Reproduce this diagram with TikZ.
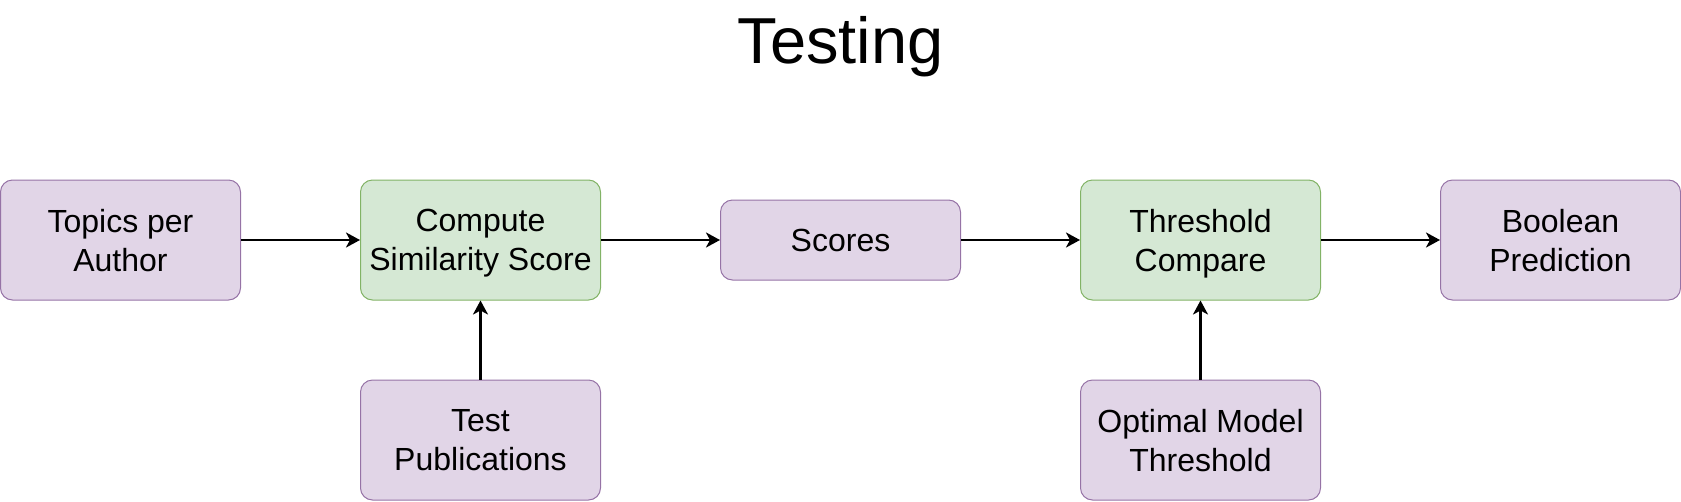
\documentclass[tikz,border=0pt]{standalone}
\usepackage{fontspec}
\setmainfont{Liberation Sans}
\usetikzlibrary{positioning,arrows.meta}

\definecolor{purplefill}{HTML}{E1D5E7}
\definecolor{purpleline}{HTML}{9673A6}
\definecolor{greenfill}{HTML}{D5E8D4}
\definecolor{greenline}{HTML}{82B366}

\begin{document}
\begin{tikzpicture}[%
		x=1pt,y=-1pt,
		box/.style={rounded corners=12pt,line width=1pt,minimum width=240pt,
			minimum height=120pt,inner sep=0pt,align=center,text depth=0pt,
			font=\fontsize{32}{39}\selectfont},
		datbox/.style={box,draw=purpleline,fill=purplefill},
		procbox/.style={box,draw=greenline,fill=greenfill},
		flow/.style={line width=2.8pt,-{Stealth[length=14pt,width=15pt,inset=4pt]}}]
		\useasboundingbox (0,0) rectangle (1681,501);
		\node[anchor=base,font=\fontsize{65}{72}\selectfont](title)at(840.5,63){Testing};
		\node[datbox](topics)at(120.5,240){Topics per\\Author};
		\node[procbox](compute)at(480.5,240){Compute\\Similarity Score};
		\node[datbox,minimum height=80pt](scores)at(840.5,240){Scores};
		\node[procbox](thresh)at(1200.5,240){Threshold\\Compare};
		\node[datbox](boolean)at(1560.5,240){Boolean\\Prediction};
		\node[datbox](testpub)at(480.5,440){Test\\Publications};
		\node[datbox](optimal)at(1200.5,440){Optimal Model\\Threshold};
		\draw[flow](topics)--(compute);
		\draw[flow](compute)--(scores);
		\draw[flow](scores)--(thresh);
		\draw[flow](thresh)--(boolean);
		\draw[flow](testpub)--(compute);
		\draw[flow](optimal)--(thresh);
	\end{tikzpicture}
\end{document}
